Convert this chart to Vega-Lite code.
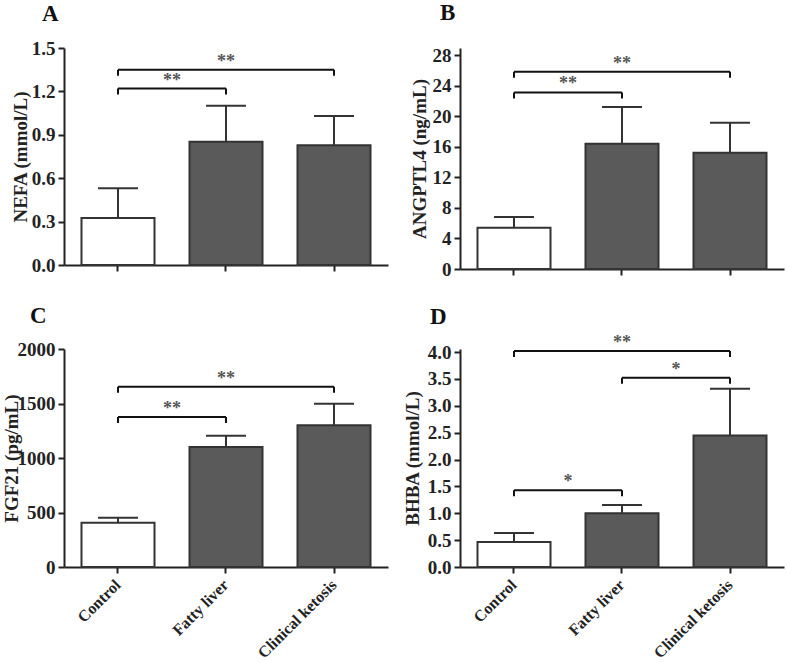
{
  "$schema": "https://vega.github.io/schema/vega-lite/v6.json",
  "background": "white",
  "padding": {"left": 2, "top": 2, "right": 2, "bottom": 2},
  "datasets": {
    "bars": [
      {"panel": "A", "group": "Control", "mean": 0.325, "upper": 0.53},
      {"panel": "A", "group": "Fatty liver", "mean": 0.852, "upper": 1.10},
      {"panel": "A", "group": "Clinical ketosis", "mean": 0.827, "upper": 1.03},
      {"panel": "B", "group": "Control", "mean": 5.4, "upper": 6.8},
      {"panel": "B", "group": "Fatty liver", "mean": 16.4, "upper": 21.2},
      {"panel": "B", "group": "Clinical ketosis", "mean": 15.2, "upper": 19.15},
      {"panel": "C", "group": "Control", "mean": 405, "upper": 451},
      {"panel": "C", "group": "Fatty liver", "mean": 1101, "upper": 1205},
      {"panel": "C", "group": "Clinical ketosis", "mean": 1301, "upper": 1497},
      {"panel": "D", "group": "Control", "mean": 0.466, "upper": 0.633},
      {"panel": "D", "group": "Fatty liver", "mean": 1.0, "upper": 1.155},
      {"panel": "D", "group": "Clinical ketosis", "mean": 2.447, "upper": 3.315}
    ],
    "brackets": [
      {"panel": "A", "from": "Control", "to": "Fatty liver", "y": 1.22, "label": "**", "adj": true},
      {"panel": "A", "from": "Control", "to": "Clinical ketosis", "y": 1.35, "label": "**", "adj": false},
      {"panel": "B", "from": "Control", "to": "Fatty liver", "y": 23.1, "label": "**", "adj": true},
      {"panel": "B", "from": "Control", "to": "Clinical ketosis", "y": 25.8, "label": "**", "adj": false},
      {"panel": "C", "from": "Control", "to": "Fatty liver", "y": 1377, "label": "**", "adj": true},
      {"panel": "C", "from": "Control", "to": "Clinical ketosis", "y": 1654, "label": "**", "adj": false},
      {"panel": "D", "from": "Control", "to": "Fatty liver", "y": 1.43, "label": "*", "adj": true},
      {"panel": "D", "from": "Fatty liver", "to": "Clinical ketosis", "y": 3.52, "label": "*", "adj": true},
      {"panel": "D", "from": "Control", "to": "Clinical ketosis", "y": 4.02, "label": "**", "adj": false}
    ]
  },
  "columns": 2,
  "spacing": {"row": 80, "column": 72},
  "bounds": "flush",
  "concat": [
    {
      "width": 324, "height": 217,
      "title": {"text": "A", "anchor": "start", "frame": "group", "dx": -22, "offset": -5, "baseline": "alphabetic"},
      "layer": [
        {"data": {"name": "bars"}, "transform": [{"filter": "datum.panel === 'A'"}],
         "mark": {"type": "bar", "stroke": "#333", "strokeWidth": 2},
         "encoding": {
           "x": {"field": "group", "type": "nominal", "sort": null, "scale": {"domain": ["Control", "Fatty liver", "Clinical ketosis"], "paddingInner": 0.324, "paddingOuter": 0.162}, "axis": {"title": null, "labels": false}},
           "y": {"field": "mean", "type": "quantitative", "scale": {"domain": [0, 1.5], "nice": false}, "axis": {"title": "NEFA (mmol/L)", "titleX": -34, "values": [0, 0.3, 0.6, 0.9, 1.2, 1.5], "tickCount": 20, "format": ".1f"}},
           "fill": {"field": "group", "type": "nominal", "scale": {"domain": ["Control", "Fatty liver", "Clinical ketosis"], "range": ["white", "#5a5a5a", "#5a5a5a"]}, "legend": null}
         }},
        {"data": {"name": "bars"}, "transform": [{"filter": "datum.panel === 'A'"}],
         "mark": {"type": "rule", "stroke": "#333", "strokeWidth": 2},
         "encoding": {"x": {"field": "group", "type": "nominal"}, "y": {"field": "mean", "type": "quantitative"}, "y2": {"field": "upper"}}},
        {"data": {"name": "bars"}, "transform": [{"filter": "datum.panel === 'A'"}],
         "mark": {"type": "tick", "size": 40, "thickness": 2, "color": "#333", "opacity": 1},
         "encoding": {"x": {"field": "group", "type": "nominal"}, "y": {"field": "upper", "type": "quantitative"}}},
        {"data": {"name": "brackets"}, "transform": [{"filter": "datum.panel === 'A'"}],
         "mark": {"type": "rule", "stroke": "#111", "strokeWidth": 2},
         "encoding": {"x": {"field": "from", "type": "nominal"}, "x2": {"field": "to"}, "y": {"field": "y", "type": "quantitative"}}},
        {"data": {"name": "brackets"}, "transform": [{"filter": "datum.panel === 'A'"}],
         "mark": {"type": "rule", "stroke": "#111", "strokeWidth": 2, "y2Offset": 6},
         "encoding": {"x": {"field": "from", "type": "nominal"}, "y": {"field": "y", "type": "quantitative"}, "y2": {"field": "y"}}},
        {"data": {"name": "brackets"}, "transform": [{"filter": "datum.panel === 'A'"}],
         "mark": {"type": "rule", "stroke": "#111", "strokeWidth": 2, "y2Offset": 6},
         "encoding": {"x": {"field": "to", "type": "nominal"}, "y": {"field": "y", "type": "quantitative"}, "y2": {"field": "y"}}},
        {"data": {"name": "brackets"}, "transform": [{"filter": "datum.panel === 'A' && datum.adj"}],
         "mark": {"type": "text", "dx": 54, "dy": -3, "baseline": "alphabetic"},
         "encoding": {"x": {"field": "from", "type": "nominal"}, "y": {"field": "y", "type": "quantitative"}, "text": {"field": "label"}}},
        {"data": {"name": "brackets"}, "transform": [{"filter": "datum.panel === 'A' && !datum.adj"}],
         "mark": {"type": "text", "dx": 108, "dy": -3, "baseline": "alphabetic"},
         "encoding": {"x": {"field": "from", "type": "nominal"}, "y": {"field": "y", "type": "quantitative"}, "text": {"field": "label"}}}
      ]
    },
    {
      "width": 324, "height": 221,
      "title": {"text": "B", "anchor": "start", "frame": "group", "dx": -20, "offset": 3, "baseline": "alphabetic"},
      "layer": [
        {"data": {"name": "bars"}, "transform": [{"filter": "datum.panel === 'B'"}],
         "mark": {"type": "bar", "stroke": "#333", "strokeWidth": 2},
         "encoding": {
           "x": {"field": "group", "type": "nominal", "sort": null, "scale": {"domain": ["Control", "Fatty liver", "Clinical ketosis"], "paddingInner": 0.324, "paddingOuter": 0.162}, "axis": {"title": null, "labels": false}},
           "y": {"field": "mean", "type": "quantitative", "scale": {"domain": [0, 28.92], "nice": false}, "axis": {"title": "ANGPTL4 (ng/mL)", "titleX": -31, "values": [0, 4, 8, 12, 16, 20, 24, 28], "tickCount": 20}},
           "fill": {"field": "group", "type": "nominal", "scale": {"domain": ["Control", "Fatty liver", "Clinical ketosis"], "range": ["white", "#5a5a5a", "#5a5a5a"]}, "legend": null}
         }},
        {"data": {"name": "bars"}, "transform": [{"filter": "datum.panel === 'B'"}],
         "mark": {"type": "rule", "stroke": "#333", "strokeWidth": 2},
         "encoding": {"x": {"field": "group", "type": "nominal"}, "y": {"field": "mean", "type": "quantitative"}, "y2": {"field": "upper"}}},
        {"data": {"name": "bars"}, "transform": [{"filter": "datum.panel === 'B'"}],
         "mark": {"type": "tick", "size": 40, "thickness": 2, "color": "#333", "opacity": 1},
         "encoding": {"x": {"field": "group", "type": "nominal"}, "y": {"field": "upper", "type": "quantitative"}}},
        {"data": {"name": "brackets"}, "transform": [{"filter": "datum.panel === 'B'"}],
         "mark": {"type": "rule", "stroke": "#111", "strokeWidth": 2},
         "encoding": {"x": {"field": "from", "type": "nominal"}, "x2": {"field": "to"}, "y": {"field": "y", "type": "quantitative"}}},
        {"data": {"name": "brackets"}, "transform": [{"filter": "datum.panel === 'B'"}],
         "mark": {"type": "rule", "stroke": "#111", "strokeWidth": 2, "y2Offset": 6},
         "encoding": {"x": {"field": "from", "type": "nominal"}, "y": {"field": "y", "type": "quantitative"}, "y2": {"field": "y"}}},
        {"data": {"name": "brackets"}, "transform": [{"filter": "datum.panel === 'B'"}],
         "mark": {"type": "rule", "stroke": "#111", "strokeWidth": 2, "y2Offset": 6},
         "encoding": {"x": {"field": "to", "type": "nominal"}, "y": {"field": "y", "type": "quantitative"}, "y2": {"field": "y"}}},
        {"data": {"name": "brackets"}, "transform": [{"filter": "datum.panel === 'B' && datum.adj"}],
         "mark": {"type": "text", "dx": 54, "dy": -3, "baseline": "alphabetic"},
         "encoding": {"x": {"field": "from", "type": "nominal"}, "y": {"field": "y", "type": "quantitative"}, "text": {"field": "label"}}},
        {"data": {"name": "brackets"}, "transform": [{"filter": "datum.panel === 'B' && !datum.adj"}],
         "mark": {"type": "text", "dx": 108, "dy": -3, "baseline": "alphabetic"},
         "encoding": {"x": {"field": "from", "type": "nominal"}, "y": {"field": "y", "type": "quantitative"}, "text": {"field": "label"}}}
      ]
    },
    {
      "width": 324, "height": 218,
      "title": {"text": "C", "anchor": "start", "frame": "group", "dx": -34, "offset": -6, "baseline": "alphabetic"},
      "layer": [
        {"data": {"name": "bars"}, "transform": [{"filter": "datum.panel === 'C'"}],
         "mark": {"type": "bar", "stroke": "#333", "strokeWidth": 2},
         "encoding": {
           "x": {"field": "group", "type": "nominal", "sort": null, "scale": {"domain": ["Control", "Fatty liver", "Clinical ketosis"], "paddingInner": 0.324, "paddingOuter": 0.162}, "axis": {"title": null, "labelAngle": -45, "labelAlign": "right", "labelBaseline": "middle", "labelFontSize": 16, "labelPadding": 9, "labelDx": 9}},
           "y": {"field": "mean", "type": "quantitative", "scale": {"domain": [0, 2000], "nice": false}, "axis": {"title": "FGF21 (pg/mL)", "titleX": -43, "values": [0, 500, 1000, 1500, 2000], "tickCount": 20, "format": "d"}},
           "fill": {"field": "group", "type": "nominal", "scale": {"domain": ["Control", "Fatty liver", "Clinical ketosis"], "range": ["white", "#5a5a5a", "#5a5a5a"]}, "legend": null}
         }},
        {"data": {"name": "bars"}, "transform": [{"filter": "datum.panel === 'C'"}],
         "mark": {"type": "rule", "stroke": "#333", "strokeWidth": 2},
         "encoding": {"x": {"field": "group", "type": "nominal"}, "y": {"field": "mean", "type": "quantitative"}, "y2": {"field": "upper"}}},
        {"data": {"name": "bars"}, "transform": [{"filter": "datum.panel === 'C'"}],
         "mark": {"type": "tick", "size": 40, "thickness": 2, "color": "#333", "opacity": 1},
         "encoding": {"x": {"field": "group", "type": "nominal"}, "y": {"field": "upper", "type": "quantitative"}}},
        {"data": {"name": "brackets"}, "transform": [{"filter": "datum.panel === 'C'"}],
         "mark": {"type": "rule", "stroke": "#111", "strokeWidth": 2},
         "encoding": {"x": {"field": "from", "type": "nominal"}, "x2": {"field": "to"}, "y": {"field": "y", "type": "quantitative"}}},
        {"data": {"name": "brackets"}, "transform": [{"filter": "datum.panel === 'C'"}],
         "mark": {"type": "rule", "stroke": "#111", "strokeWidth": 2, "y2Offset": 6},
         "encoding": {"x": {"field": "from", "type": "nominal"}, "y": {"field": "y", "type": "quantitative"}, "y2": {"field": "y"}}},
        {"data": {"name": "brackets"}, "transform": [{"filter": "datum.panel === 'C'"}],
         "mark": {"type": "rule", "stroke": "#111", "strokeWidth": 2, "y2Offset": 6},
         "encoding": {"x": {"field": "to", "type": "nominal"}, "y": {"field": "y", "type": "quantitative"}, "y2": {"field": "y"}}},
        {"data": {"name": "brackets"}, "transform": [{"filter": "datum.panel === 'C' && datum.adj"}],
         "mark": {"type": "text", "dx": 54, "dy": -3, "baseline": "alphabetic"},
         "encoding": {"x": {"field": "from", "type": "nominal"}, "y": {"field": "y", "type": "quantitative"}, "text": {"field": "label"}}},
        {"data": {"name": "brackets"}, "transform": [{"filter": "datum.panel === 'C' && !datum.adj"}],
         "mark": {"type": "text", "dx": 108, "dy": -3, "baseline": "alphabetic"},
         "encoding": {"x": {"field": "from", "type": "nominal"}, "y": {"field": "y", "type": "quantitative"}, "text": {"field": "label"}}}
      ]
    },
    {
      "width": 324, "height": 218,
      "title": {"text": "D", "anchor": "start", "frame": "group", "dx": -30, "offset": -13, "baseline": "alphabetic"},
      "layer": [
        {"data": {"name": "bars"}, "transform": [{"filter": "datum.panel === 'D'"}],
         "mark": {"type": "bar", "stroke": "#333", "strokeWidth": 2},
         "encoding": {
           "x": {"field": "group", "type": "nominal", "sort": null, "scale": {"domain": ["Control", "Fatty liver", "Clinical ketosis"], "paddingInner": 0.324, "paddingOuter": 0.162}, "axis": {"title": null, "labelAngle": -45, "labelAlign": "right", "labelBaseline": "middle", "labelFontSize": 16, "labelPadding": 9, "labelDx": 6}},
           "y": {"field": "mean", "type": "quantitative", "scale": {"domain": [0, 4.056], "nice": false}, "axis": {"title": "BHBA (mmol/L)", "titleX": -38, "values": [0, 0.5, 1, 1.5, 2, 2.5, 3, 3.5, 4], "tickCount": 20, "format": ".1f"}},
           "fill": {"field": "group", "type": "nominal", "scale": {"domain": ["Control", "Fatty liver", "Clinical ketosis"], "range": ["white", "#5a5a5a", "#5a5a5a"]}, "legend": null}
         }},
        {"data": {"name": "bars"}, "transform": [{"filter": "datum.panel === 'D'"}],
         "mark": {"type": "rule", "stroke": "#333", "strokeWidth": 2},
         "encoding": {"x": {"field": "group", "type": "nominal"}, "y": {"field": "mean", "type": "quantitative"}, "y2": {"field": "upper"}}},
        {"data": {"name": "bars"}, "transform": [{"filter": "datum.panel === 'D'"}],
         "mark": {"type": "tick", "size": 40, "thickness": 2, "color": "#333", "opacity": 1},
         "encoding": {"x": {"field": "group", "type": "nominal"}, "y": {"field": "upper", "type": "quantitative"}}},
        {"data": {"name": "brackets"}, "transform": [{"filter": "datum.panel === 'D'"}],
         "mark": {"type": "rule", "stroke": "#111", "strokeWidth": 2},
         "encoding": {"x": {"field": "from", "type": "nominal"}, "x2": {"field": "to"}, "y": {"field": "y", "type": "quantitative"}}},
        {"data": {"name": "brackets"}, "transform": [{"filter": "datum.panel === 'D'"}],
         "mark": {"type": "rule", "stroke": "#111", "strokeWidth": 2, "y2Offset": 6},
         "encoding": {"x": {"field": "from", "type": "nominal"}, "y": {"field": "y", "type": "quantitative"}, "y2": {"field": "y"}}},
        {"data": {"name": "brackets"}, "transform": [{"filter": "datum.panel === 'D'"}],
         "mark": {"type": "rule", "stroke": "#111", "strokeWidth": 2, "y2Offset": 6},
         "encoding": {"x": {"field": "to", "type": "nominal"}, "y": {"field": "y", "type": "quantitative"}, "y2": {"field": "y"}}},
        {"data": {"name": "brackets"}, "transform": [{"filter": "datum.panel === 'D' && datum.adj"}],
         "mark": {"type": "text", "dx": 54, "dy": -3, "baseline": "alphabetic"},
         "encoding": {"x": {"field": "from", "type": "nominal"}, "y": {"field": "y", "type": "quantitative"}, "text": {"field": "label"}}},
        {"data": {"name": "brackets"}, "transform": [{"filter": "datum.panel === 'D' && !datum.adj"}],
         "mark": {"type": "text", "dx": 108, "dy": -3, "baseline": "alphabetic"},
         "encoding": {"x": {"field": "from", "type": "nominal"}, "y": {"field": "y", "type": "quantitative"}, "text": {"field": "label"}}}
      ]
    }
  ],
  "config": {
    "view": {"stroke": null},
    "font": "Liberation Serif",
    "axis": {
      "labelFont": "Liberation Serif", "labelFontSize": 19, "labelFontWeight": "bold", "labelColor": "#222",
      "titleFont": "Liberation Serif", "titleFontSize": 19, "titleFontWeight": "bold", "titleColor": "#222", "titleBaseline": "bottom",
      "domainColor": "#222", "domainWidth": 2, "tickColor": "#222", "tickWidth": 2, "tickSize": 6,
      "grid": false, "labelPadding": 3, "titlePadding": 6, "labelOverlap": false
    },
    "title": {"font": "Liberation Serif", "fontSize": 23, "fontWeight": "bold", "color": "#111"},
    "text": {"font": "Liberation Serif", "fontSize": 18, "fontWeight": "bold", "color": "#555"}
  }
}
